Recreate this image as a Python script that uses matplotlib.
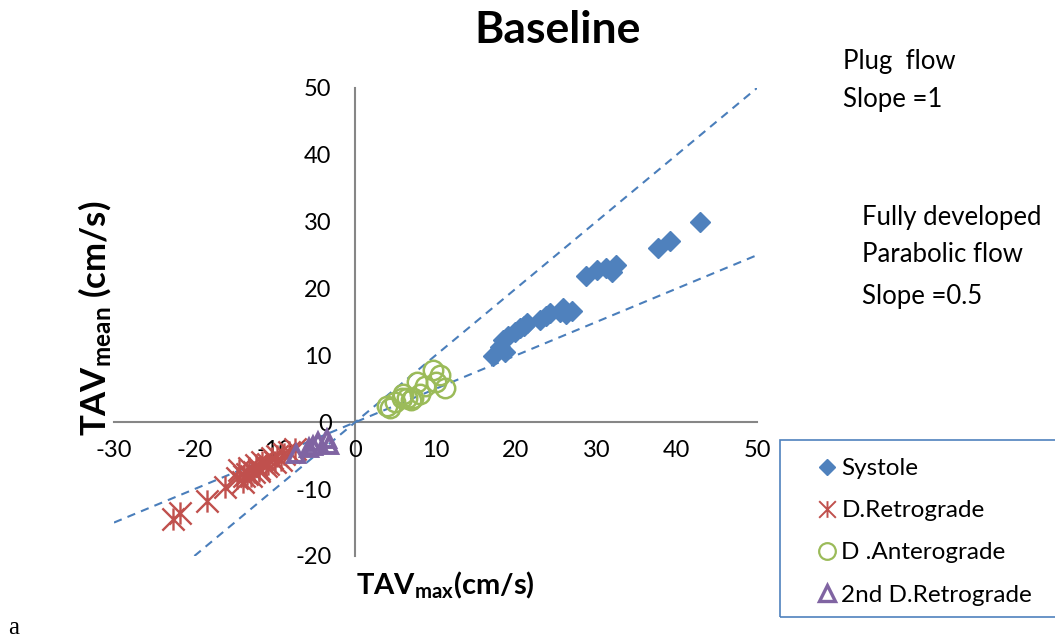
import numpy as np
import matplotlib.pyplot as plt
from matplotlib.path import Path
from matplotlib.patches import Rectangle
from matplotlib.lines import Line2D

plt.rcParams['font.family'] = ['Lato', 'DejaVu Sans']
plt.rcParams['mathtext.fontset'] = 'custom'
plt.rcParams['mathtext.rm'] = 'Lato'
plt.rcParams['mathtext.bf'] = 'Lato:bold'
plt.rcParams['axes.unicode_minus'] = False

# values (TAVmax, TAVmean) in cm/s
systole_x = [17.2, 18.0, 18.7, 18.4, 19.0, 19.9, 20.5, 21.0, 21.4, 23.0, 23.8, 24.3,
             25.5, 25.9, 26.2, 27.0, 28.7, 30.1, 31.2, 32.0, 32.5, 37.7, 39.2, 42.9]
systole_y = [9.9, 11.2, 10.5, 12.3, 12.9, 13.5, 14.1, 14.4, 14.8, 15.3, 15.9, 16.3,
             16.5, 17.1, 16.2, 16.6, 21.9, 22.8, 23.1, 22.5, 23.5, 26.0, 27.1, 29.9]

retro_x = [-22.6, -21.8, -18.4, -16.2, -14.7, -14.4, -13.8, -13.2, -12.6, -12.3,
           -11.6, -11.1, -10.3, -9.7, -8.8, -8.2, -13.5, -12.0, -10.8, -7.5,
           -14.0, -12.9, -11.9, -10.0, -9.2]
retro_y = [-14.4, -13.6, -11.7, -9.7, -8.4, -7.2, -8.1, -6.9, -7.5, -6.4,
           -6.0, -6.6, -5.4, -5.1, -4.8, -4.5, -7.8, -7.0, -6.2, -4.0,
           -8.9, -8.0, -7.3, -6.0, -5.6]

antero_x = [4.0, 4.3, 5.0, 5.8, 6.5, 7.2, 8.1, 7.7, 8.7, 9.7, 10.0, 11.2, 10.6, 6.0, 7.0]
antero_y = [2.4, 2.2, 3.0, 3.6, 3.7, 3.7, 4.3, 6.0, 5.5, 7.8, 6.0, 5.2, 7.0, 4.2, 3.4]

retro2_x = [-7.3, -5.8, -5.3, -4.6, -3.5, -3.2]
retro2_y = [-4.7, -3.9, -3.6, -3.0, -2.5, -3.4]

plug_x = [-20, 50]
parab_x = [-30, 50]

blue = '#4F81BD'
red = '#C0504D'
green = '#9BBB59'
purple = '#8064A2'
grey = '#868686'

star = Path([(0, -1), (0, 1), (-1, -1), (1, 1), (-1, 1), (1, -1)],
            [Path.MOVETO, Path.LINETO, Path.MOVETO, Path.LINETO, Path.MOVETO, Path.LINETO])

fig = plt.figure(figsize=(10.55, 6.43), dpi=100)
ax = fig.add_axes([114 / 1055, 87 / 643, 643 / 1055, 468 / 643])
ax.set_xlim(-30, 50)
ax.set_ylim(-20, 50)

ax.plot(plug_x, [v * 1.0 for v in plug_x], '--', color='#4A7EBB', lw=1.5, dashes=(4, 3), zorder=2)
ax.plot(parab_x, [v * 0.5 for v in parab_x], '--', color='#4A7EBB', lw=1.5, dashes=(4, 3), zorder=2)

ax.plot(systole_x, systole_y, 'D', color=blue, ms=10, mec=blue, ls='none', zorder=4)
ax.plot(retro_x, retro_y, marker=star, color=red, ms=16, mew=1.7, ls='none', zorder=4)
ax.plot(antero_x, antero_y, 'o', mfc='none', mec=green, ms=14, mew=1.8, ls='none', zorder=4)
ax.plot(retro2_x, retro2_y, '^', mfc='none', mec=purple, ms=12, mew=2.8, ls='none', zorder=5)

for s in ['top', 'right']:
    ax.spines[s].set_visible(False)
for s in ['left', 'bottom']:
    ax.spines[s].set_position(('data', 0))
    ax.spines[s].set_color(grey)
    ax.spines[s].set_linewidth(1.5)
    ax.spines[s].set_zorder(1)
ax.set_xticks(np.arange(-30, 51, 10))
ax.set_yticks(np.arange(-20, 51, 10))
ax.tick_params(axis='x', length=0, pad=13, labelsize=17)
ax.tick_params(axis='y', length=0, pad=17, labelsize=17)

fig.text(558 / 1055, 1 - 30 / 643, 'Baseline', fontsize=32, fontweight='bold',
         ha='center', va='center')
fig.text(445 / 1055, 1 - 585 / 643, r'$\mathbf{TAV_{max}}$' + '(cm/s)', fontsize=21,
         fontweight='bold', ha='center', va='center')
fig.text(95 / 1055, 1 - 318 / 643, r'$\mathbf{TAV_{mean}}$' + ' (cm/s)', fontsize=25,
         fontweight='bold', ha='center', va='center', rotation=90)

fig.text(843 / 1055, 1 - 61 / 643, 'Plug  flow', fontsize=18.5, va='center')
fig.text(843 / 1055, 1 - 99 / 643, 'Slope =1', fontsize=18.5, va='center')
fig.text(862 / 1055, 1 - 218 / 643, 'Fully developed', fontsize=18.5, va='center')
fig.text(862 / 1055, 1 - 255 / 643, 'Parabolic flow', fontsize=18.5, va='center')
fig.text(862 / 1055, 1 - 296 / 643, 'Slope =0.5', fontsize=18.5, va='center')

fig.text(8 / 1055, 1 - 628 / 643, 'a', fontsize=18, family='Liberation Serif', va='center')

fig.patches.append(Rectangle((780 / 1055, 1 - 617 / 643), 300 / 1055, 177 / 643,
                             transform=fig.transFigure, fill=False, ec=blue, lw=1.2))

handles = [
    Line2D([], [], marker='D', color=blue, ms=8, ls='none'),
    Line2D([], [], marker=star, color=red, ms=12, mew=1.4, ls='none'),
    Line2D([], [], marker='o', mfc='none', mec=green, ms=12, mew=1.6, ls='none'),
    Line2D([], [], marker='^', mfc='none', mec=purple, ms=12, mew=2.4, ls='none'),
]
names = ['Systole', 'D.Retrograde', 'D .Anterograde', '2nd D.Retrograde']
fig.legend(handles, names, loc='upper left', bbox_to_anchor=(805 / 1055, 1 - 446 / 643),
           frameon=False, fontsize=17.5, handlelength=0.8, handletextpad=0.2,
           labelspacing=0.87, borderpad=0)

fig.savefig('out.png', dpi=100)
